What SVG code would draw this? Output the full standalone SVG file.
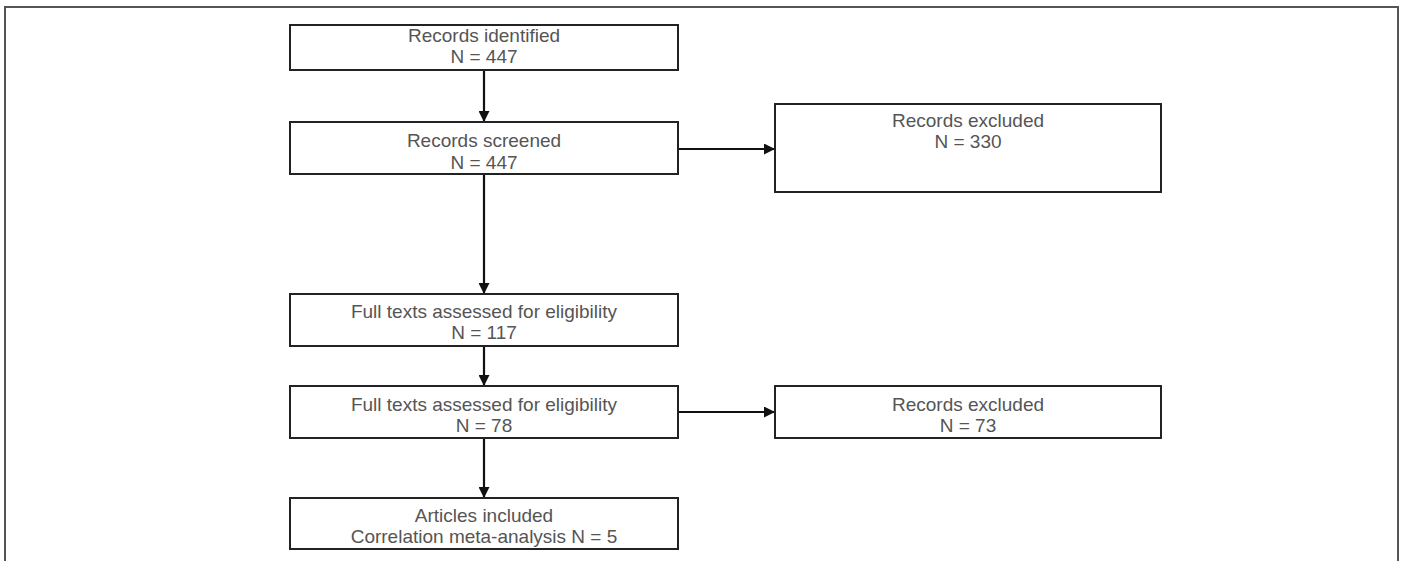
<svg xmlns="http://www.w3.org/2000/svg" width="1402" height="561" viewBox="0 0 1402 561">
<style>
.box{fill:#fff;stroke:#222;stroke-width:2}
.t{font-family:"Liberation Sans",Arial,sans-serif;font-size:19px;fill:#555;text-anchor:middle}
.c{stroke:#111;stroke-width:2.2;fill:none;marker-end:url(#ah)}
</style>
<defs>
<marker id="ah" viewBox="0 0 10 10" refX="10" refY="5" markerWidth="5" markerHeight="5" orient="auto" markerUnits="strokeWidth">
<path d="M0,0 L10,5 L0,10 z" fill="#111"/>
</marker>
</defs>
<rect x="0" y="0" width="1402" height="561" fill="#fff"/>
<path d="M5,575 V7 H1398 V575" fill="none" stroke="#555" stroke-width="2"/>
<g id="connectors">
<line class="c" x1="484" y1="70" x2="484" y2="122"/>
<line class="c" x1="678" y1="149" x2="775" y2="149"/>
<line class="c" x1="484" y1="174" x2="484" y2="294"/>
<line class="c" x1="484" y1="346" x2="484" y2="386"/>
<line class="c" x1="678" y1="412" x2="775" y2="412"/>
<line class="c" x1="484" y1="438" x2="484" y2="498"/>
</g>
<g id="n1"><rect class="box" x="290" y="25" width="388" height="45"/><text class="t" x="484" y="41.5">Records identified</text><text class="t" x="484" y="62.5">N = 447</text></g>
<g id="n2"><rect class="box" x="290" y="122" width="388" height="52"/><text class="t" x="484" y="146.5">Records screened</text><text class="t" x="484" y="168.5">N = 447</text></g>
<g id="n3"><rect class="box" x="775" y="104" width="386" height="88"/><text class="t" x="968" y="126.5">Records excluded</text><text class="t" x="968" y="147.5">N = 330</text></g>
<g id="n4"><rect class="box" x="290" y="294" width="388" height="52"/><text class="t" x="484" y="318">Full texts assessed for eligibility</text><text class="t" x="484" y="339">N = 117</text></g>
<g id="n5"><rect class="box" x="290" y="386" width="388" height="52"/><text class="t" x="484" y="410.5">Full texts assessed for eligibility</text><text class="t" x="484" y="431.5">N = 78</text></g>
<g id="n6"><rect class="box" x="775" y="386" width="386" height="52"/><text class="t" x="968" y="410.5">Records excluded</text><text class="t" x="968" y="431.5">N = 73</text></g>
<g id="n7"><rect class="box" x="290" y="498" width="388" height="51"/><text class="t" x="484" y="521.5">Articles included</text><text class="t" x="484" y="542.5">Correlation meta-analysis N = 5</text></g>
</svg>
